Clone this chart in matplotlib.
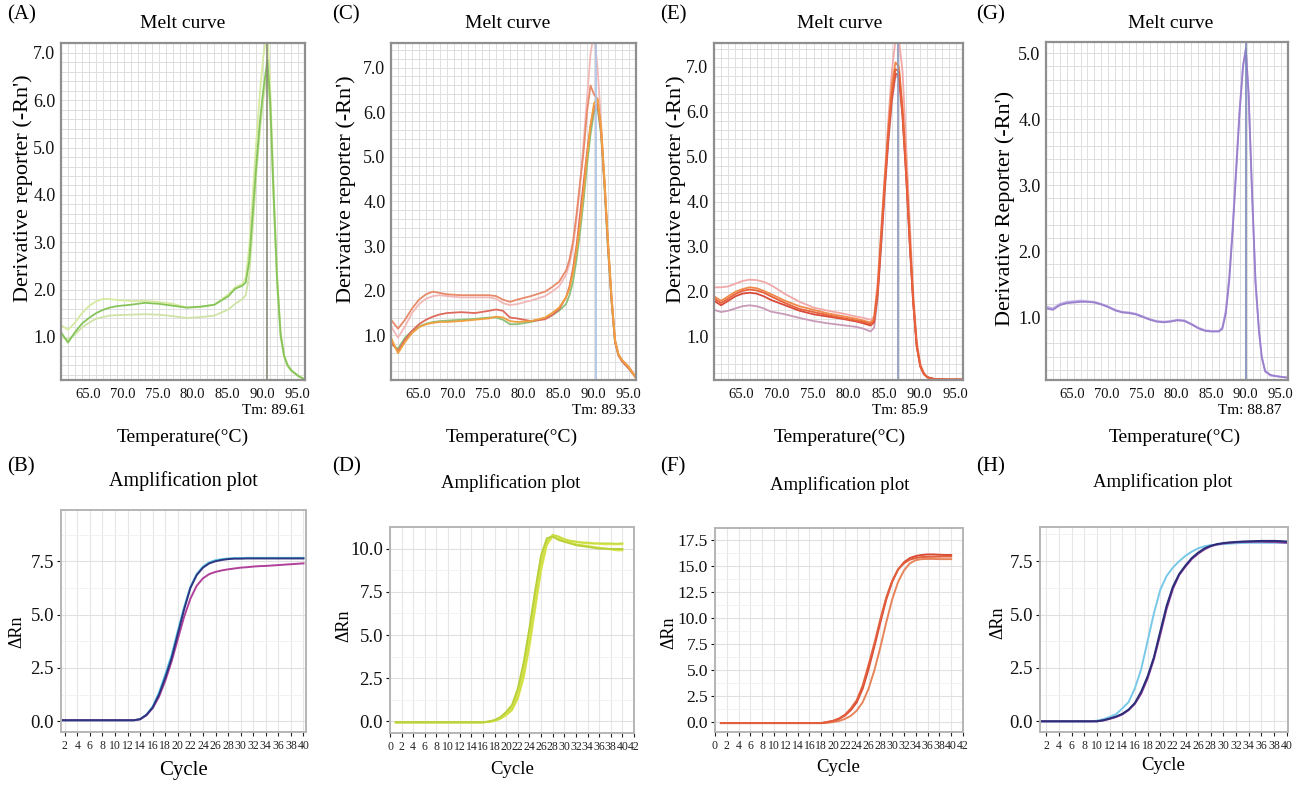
import matplotlib.pyplot as plt
from matplotlib.ticker import MultipleLocator
from matplotlib.transforms import ScaledTranslation

plt.rcParams['font.family'] = ['Liberation Serif', 'DejaVu Serif']

W, H = 1316, 787

# ---------------- melt curve data ----------------
a_temp = [60, 61, 62, 63, 64, 65, 66, 67, 68, 70, 72, 74, 76, 78, 80, 82, 84, 85, 86, 86.5,
          87, 87.5, 88, 88.5, 89, 89.6, 90, 90.5, 91, 91.5, 92, 92.5, 93, 94, 95]
a_dark = [1.10, 0.88, 1.10, 1.28, 1.40, 1.50, 1.57, 1.62, 1.65, 1.68, 1.72, 1.70, 1.66, 1.62, 1.64, 1.68, 1.86, 2.02, 2.08, 2.15,
          2.60, 3.60, 4.60, 5.50, 6.20, 6.85, 6.00, 4.00, 2.20, 1.05, 0.60, 0.40, 0.30, 0.18, 0.10]
a_upper = [1.25, 1.15, 1.30, 1.50, 1.65, 1.75, 1.80, 1.80, 1.78, 1.76, 1.76, 1.74, 1.70, 1.62, 1.63, 1.68, 1.90, 2.05, 2.12, 2.25,
           2.90, 4.00, 5.10, 6.10, 6.90, 7.50, 6.30, 4.20, 2.30, 1.10, 0.62, 0.42, 0.30, 0.18, 0.10]
a_lower = [1.00, 0.95, 1.05, 1.20, 1.30, 1.38, 1.42, 1.45, 1.46, 1.47, 1.48, 1.47, 1.44, 1.40, 1.42, 1.45, 1.58, 1.70, 1.80, 1.88,
           2.30, 3.30, 4.40, 5.30, 6.00, 6.60, 5.80, 3.90, 2.10, 1.00, 0.58, 0.38, 0.28, 0.17, 0.10]

c_temp = [60, 61, 62, 63, 64, 65, 66, 67, 68, 70, 72, 74, 75, 76, 77, 78, 80, 82, 83, 84,
          85, 85.5, 86, 86.5, 87, 87.5, 88, 88.5, 89, 89.5, 90, 90.5, 91, 91.5, 92, 92.5, 93, 94, 95]
c_salmon = [1.35, 1.15, 1.35, 1.60, 1.80, 1.92, 1.98, 1.95, 1.92, 1.90, 1.90, 1.90, 1.88, 1.80, 1.75, 1.80, 1.88, 1.98, 2.08, 2.20,
            2.45, 2.70, 3.10, 3.70, 4.40, 5.10, 6.00, 6.60, 6.40, 6.30, 5.60, 4.40, 3.10, 1.90, 0.90, 0.55, 0.45, 0.28, 0.05]
c_pink = [1.20, 0.95, 1.20, 1.50, 1.70, 1.82, 1.88, 1.90, 1.88, 1.85, 1.85, 1.85, 1.82, 1.72, 1.68, 1.70, 1.78, 1.88, 1.98, 2.10,
          2.35, 2.60, 3.00, 3.60, 4.40, 5.30, 6.30, 7.30, 7.80, 7.00, 5.80, 4.40, 3.00, 1.80, 0.90, 0.55, 0.45, 0.30, 0.06]
c_red = [0.85, 0.65, 0.90, 1.10, 1.25, 1.35, 1.42, 1.47, 1.50, 1.52, 1.50, 1.55, 1.58, 1.55, 1.40, 1.38, 1.32, 1.36, 1.45, 1.58,
         1.85, 2.10, 2.50, 3.00, 3.70, 4.40, 5.10, 5.70, 6.10, 6.20, 5.60, 4.40, 3.00, 1.80, 0.85, 0.55, 0.42, 0.25, 0.05]
c_green = [0.80, 0.70, 0.95, 1.10, 1.20, 1.26, 1.30, 1.32, 1.33, 1.35, 1.37, 1.40, 1.40, 1.35, 1.25, 1.25, 1.30, 1.38, 1.45, 1.55,
           1.70, 1.90, 2.20, 2.70, 3.30, 4.00, 4.80, 5.50, 6.00, 6.10, 5.50, 4.30, 2.90, 1.75, 0.85, 0.55, 0.42, 0.25, 0.05]
c_orange = [0.95, 0.60, 0.85, 1.05, 1.18, 1.25, 1.28, 1.30, 1.30, 1.32, 1.35, 1.38, 1.42, 1.40, 1.32, 1.30, 1.32, 1.40, 1.50, 1.62,
            1.85, 2.05, 2.40, 2.90, 3.50, 4.20, 5.00, 5.70, 6.20, 6.30, 5.70, 4.50, 3.10, 1.85, 0.90, 0.58, 0.45, 0.28, 0.04]

e_temp = [60, 61, 62, 63, 64, 65, 66, 67, 68, 70, 72, 74, 76, 78, 80, 81, 82, 82.5,
          83, 83.5, 84, 84.5, 85, 85.5, 86, 86.5, 87, 87.5, 88, 88.5, 89, 89.5, 90, 91, 93, 95]
e_pink = [2.10, 2.10, 2.12, 2.18, 2.24, 2.27, 2.26, 2.22, 2.15, 1.95, 1.78, 1.65, 1.58, 1.52, 1.45, 1.42, 1.38, 1.45,
          2.20, 3.40, 4.60, 5.80, 6.90, 7.60, 7.60, 6.90, 5.30, 3.60, 2.00, 0.90, 0.40, 0.20, 0.10, 0.06, 0.05, 0.05]
e_main = [1.85, 1.75, 1.85, 1.95, 2.02, 2.05, 2.03, 1.98, 1.90, 1.75, 1.62, 1.55, 1.48, 1.42, 1.36, 1.33, 1.28, 1.35,
          2.00, 3.20, 4.40, 5.50, 6.40, 6.95, 6.90, 6.00, 4.70, 3.20, 1.80, 0.80, 0.35, 0.18, 0.10, 0.06, 0.05, 0.05]
e_red = [1.80, 1.70, 1.80, 1.90, 1.96, 1.98, 1.96, 1.90, 1.82, 1.70, 1.58, 1.50, 1.45, 1.40, 1.34, 1.30, 1.25, 1.32,
         1.95, 3.10, 4.30, 5.40, 6.30, 6.85, 6.80, 5.90, 4.60, 3.10, 1.75, 0.78, 0.34, 0.17, 0.10, 0.06, 0.05, 0.05]
e_orange = [1.90, 1.80, 1.90, 2.00, 2.06, 2.10, 2.08, 2.02, 1.95, 1.80, 1.68, 1.60, 1.52, 1.46, 1.40, 1.36, 1.32, 1.40,
            2.10, 3.30, 4.50, 5.60, 6.60, 7.10, 7.00, 6.10, 4.80, 3.30, 1.85, 0.82, 0.36, 0.18, 0.10, 0.06, 0.05, 0.05]
e_low = [1.60, 1.55, 1.58, 1.63, 1.68, 1.70, 1.68, 1.63, 1.56, 1.50, 1.42, 1.35, 1.30, 1.26, 1.22, 1.18, 1.12, 1.20,
         1.85, 3.00, 4.20, 5.30, 6.20, 6.80, 6.75, 5.90, 4.60, 3.10, 1.75, 0.78, 0.34, 0.17, 0.10, 0.06, 0.05, 0.05]

g_temp = [60, 61, 62, 63, 64, 65, 66, 67, 68, 69, 70, 71, 72, 73, 74, 75, 76, 77, 78, 79, 80, 81, 82, 83, 84, 85,
          85.5, 86, 86.5, 87, 87.5, 88, 88.5, 88.9, 89.3, 89.8, 90.3, 90.8, 91.2, 91.7, 92.5, 93.5, 95]
g_one = [1.13, 1.11, 1.18, 1.21, 1.22, 1.23, 1.23, 1.22, 1.19, 1.15, 1.10, 1.07, 1.06, 1.04, 1.00, 0.96, 0.93, 0.92, 0.93, 0.95, 0.94, 0.89, 0.83, 0.79, 0.78, 0.78,
         0.82, 1.05, 1.55, 2.30, 3.20, 4.10, 4.80, 5.07, 4.40, 2.90, 1.55, 0.80, 0.40, 0.18, 0.12, 0.10, 0.08]
g_two = [1.16, 1.13, 1.20, 1.23, 1.24, 1.25, 1.24, 1.23, 1.20, 1.16, 1.11, 1.08, 1.07, 1.05, 1.01, 0.97, 0.94, 0.93, 0.94, 0.96, 0.95, 0.90, 0.84, 0.80, 0.79, 0.79,
         0.84, 1.10, 1.62, 2.38, 3.28, 4.15, 4.82, 5.05, 4.35, 2.85, 1.50, 0.78, 0.38, 0.17, 0.11, 0.10, 0.08]

# ---------------- amplification data ----------------
cycles = list(range(1, 41))
b_cyan = [0.05] * 13 + [0.10, 0.32, 0.70, 1.35, 2.20, 3.10, 4.25, 5.35, 6.30, 6.90, 7.25, 7.45, 7.55, 7.60, 7.63,
                        7.65, 7.65, 7.66, 7.66, 7.66, 7.66, 7.66, 7.66, 7.66, 7.66, 7.66, 7.66]
b_navy = [0.05] * 13 + [0.10, 0.30, 0.65, 1.25, 2.05, 2.95, 4.10, 5.25, 6.25, 6.85, 7.20, 7.40, 7.50, 7.56, 7.60,
                        7.62, 7.62, 7.63, 7.63, 7.63, 7.63, 7.63, 7.63, 7.63, 7.63, 7.63, 7.63]
b_purple = [0.05] * 13 + [0.10, 0.28, 0.62, 1.15, 1.90, 2.80, 3.85, 4.90, 5.75, 6.35, 6.70, 6.90, 7.00, 7.07, 7.12,
                          7.16, 7.20, 7.22, 7.25, 7.27, 7.28, 7.30, 7.32, 7.34, 7.36, 7.38, 7.40]

d_one = [-0.05] * 16 + [-0.02, 0.05, 0.20, 0.45, 0.80, 1.60, 3.00, 4.90, 7.10, 9.20, 10.50, 10.75, 10.55, 10.45,
                        10.35, 10.25, 10.20, 10.15, 10.10, 10.05, 10.00, 9.95, 9.90, 9.90]
d_two = [-0.05] * 16 + [-0.03, 0.02, 0.15, 0.35, 0.65, 1.30, 2.50, 4.30, 6.50, 8.70, 10.20, 10.70, 10.60, 10.50,
                        10.45, 10.40, 10.35, 10.30, 10.30, 10.28, 10.25, 10.25, 10.25, 10.25]
d_three = [-0.05] * 16 + [0.00, 0.08, 0.25, 0.55, 0.95, 1.90, 3.40, 5.40, 7.60, 9.60, 10.60, 10.70, 10.50, 10.40,
                          10.30, 10.20, 10.15, 10.10, 10.05, 10.00, 10.00, 9.98, 9.98, 9.98]
d_four = [-0.05] * 16 + [-0.02, 0.04, 0.17, 0.40, 0.70, 1.40, 2.70, 4.60, 6.80, 9.00, 10.30, 10.80, 10.70, 10.55,
                         10.45, 10.40, 10.35, 10.35, 10.30, 10.30, 10.30, 10.30, 10.28, 10.30]

f_one = [-0.10] * 18 + [0.00, 0.12, 0.35, 0.70, 1.30, 2.10, 3.50, 5.50, 7.60, 9.90, 12.00, 13.60, 14.70, 15.30,
                        15.65, 15.80, 15.90, 15.92, 15.93, 15.94, 15.95, 15.95]
f_two = [-0.10] * 18 + [-0.08, 0.00, 0.10, 0.30, 0.60, 1.10, 1.90, 3.20, 5.00, 7.20, 9.60, 11.80, 13.50, 14.60,
                        15.30, 15.60, 15.70, 15.72, 15.72, 15.70, 15.70, 15.70]
f_three = [-0.10] * 18 + [0.00, 0.10, 0.30, 0.62, 1.15, 1.90, 3.20, 5.10, 7.30, 9.60, 11.80, 13.50, 14.70, 15.40,
                          15.80, 16.00, 16.10, 16.15, 16.15, 16.12, 16.10, 16.10]

h_cyan = [0.0] * 9 + [0.03, 0.10, 0.20, 0.33, 0.60, 0.90, 1.55, 2.45, 3.75, 5.05, 6.15, 6.80, 7.20, 7.50, 7.75, 7.95,
                      8.10, 8.20, 8.25, 8.28, 8.30, 8.32, 8.34, 8.35, 8.36, 8.36, 8.36, 8.36, 8.36, 8.36, 8.36]
h_navy = [0.0] * 10 + [0.05, 0.13, 0.22, 0.35, 0.55, 0.86, 1.40, 2.10, 3.00, 4.20, 5.40, 6.30, 6.90, 7.30, 7.65,
                       7.90, 8.10, 8.22, 8.30, 8.35, 8.38, 8.40, 8.42, 8.43, 8.44, 8.45, 8.45, 8.45, 8.44, 8.42]
h_purple = [0.0] * 10 + [0.04, 0.11, 0.20, 0.32, 0.52, 0.82, 1.30, 2.00, 2.90, 4.05, 5.25, 6.20, 6.85, 7.25, 7.60,
                         7.85, 8.05, 8.20, 8.28, 8.33, 8.36, 8.38, 8.40, 8.40, 8.41, 8.41, 8.40, 8.40, 8.38, 8.36]


fig = plt.figure(figsize=(W / 100, H / 100), dpi=100)
fig.patch.set_facecolor('white')


def rect(l, r, t, b):
    return [l / W, 1 - b / H, (r - l) / W, (b - t) / H]


def ftext(x, y, s, **kw):
    fig.text(x / W, 1 - y / H, s, **kw)


def melt_panel(box, temps, curves, colors, ylim, ytop, tm, tm_color, tag, tag_x,
               title_x, ylab, ylab_xy, tm_right, xlab_x):
    ax = fig.add_axes(rect(*box))
    ax.set_xlim(60, 95)
    ax.set_ylim(*ylim)
    ax.xaxis.set_minor_locator(MultipleLocator(1))
    ax.yaxis.set_minor_locator(MultipleLocator(0.2))
    ax.grid(which='both', color='#dedede', lw=0.7)
    ax.set_axisbelow(True)
    for c, col in zip(curves, colors):
        ax.plot(temps, c, color=col, lw=1.3)
    ax.axvline(tm, color=tm_color, lw=1.2)
    ax.set_xticks([65, 70, 75, 80, 85, 90, 95])
    ax.set_xticklabels(['65.0', '70.0', '75.0', '80.0', '85.0', '90.0', '95.0'])
    ax.set_yticks([v for v in range(1, ytop + 1)])
    ax.set_yticklabels([f'{v:.1f}' for v in range(1, ytop + 1)])
    ax.tick_params(axis='x', which='both', length=0, labelsize=10.5, pad=6, colors='#111111')
    ax.tick_params(axis='y', which='both', length=0, labelsize=13, pad=4, colors='#111111')
    shift = ScaledTranslation(-0.08, 0, fig.dpi_scale_trans)
    for lbl in ax.get_xticklabels():
        lbl.set_transform(lbl.get_transform() + shift)
    for s in ax.spines.values():
        s.set_color('#8f8f8f')
        s.set_linewidth(1.6)
    ftext(tag_x, 15, tag, fontsize=15, ha='left', va='center')
    ftext(title_x, 24, 'Melt curve', fontsize=14, ha='center', va='center')
    ftext(ylab_xy[0], ylab_xy[1], ylab, fontsize=16, rotation=90, ha='center', va='center')
    ftext(tm_right, 411, f'Tm: {tm}', fontsize=11, ha='right', va='center')
    ftext(xlab_x, 437, 'Temperature(°C)', fontsize=14, ha='center', va='center')
    return ax


def amp_panel(box, curves, colors, xlim, xticks, ylim, yticks, ytick_fs, tag, tag_x, title_x, title_y,
              title_fs, ylab_xy, cyc_xy, cyc_fs):
    ax = fig.add_axes(rect(*box))
    ax.set_xlim(*xlim)
    ax.set_ylim(*ylim)
    ax.yaxis.set_minor_locator(MultipleLocator(1.25))
    ax.grid(which='major', axis='x', color='#e6e6e6', lw=0.8)
    ax.grid(which='major', axis='y', color='#e0e0e0', lw=0.8)
    ax.grid(which='minor', axis='y', color='#f0f0f0', lw=0.6)
    ax.set_axisbelow(True)
    for c, col in zip(curves, colors):
        ax.plot(cycles, c, color=col, lw=1.4)
    ax.set_xticks(xticks)
    ax.set_xticklabels([str(v) for v in xticks])
    ax.set_yticks(yticks)
    ax.set_yticklabels([f'{v:.1f}' for v in yticks])
    ax.tick_params(axis='x', which='major', length=3, labelsize=8.5, pad=3, colors='#222222')
    ax.tick_params(axis='y', which='minor', length=0)
    ax.tick_params(axis='y', which='major', length=3, labelsize=ytick_fs, pad=2, colors='#111111')
    for s in ax.spines.values():
        s.set_color('#b5b5b5')
        s.set_linewidth(1.4)
    ftext(tag_x, 467, tag, fontsize=15, ha='left', va='center')
    ftext(title_x, title_y, 'Amplification plot', fontsize=title_fs, ha='center', va='center')
    ftext(ylab_xy[0], ylab_xy[1], 'ΔRn', fontsize=13, rotation=90, ha='center', va='center')
    ftext(cyc_xy[0], cyc_xy[1], 'Cycle', fontsize=cyc_fs, ha='center', va='center')
    return ax


# top row: melt curves
melt_panel((61, 305, 43, 380), a_temp, [a_upper, a_lower, a_dark],
           ['#d6eaa0', '#cfe3a6', '#86c45a'], (0.09, 7.21), 7, 89.61, '#8a8a78',
           '(A)', 7, 183, "Derivative reporter (-Rn')", (23, 188), 305, 183)
melt_panel((391, 636, 43, 380), c_temp, [c_pink, c_green, c_red, c_salmon, c_orange],
           ['#f2b8b8', '#8cc07a', '#de6a5e', '#e88a6a', '#f0a040'], (0.0, 7.55), 7, 89.33, '#a9c2e6',
           '(C)', 332, 508, "Derivative reporter (-Rn')", (346, 189), 635, 512)
melt_panel((714, 963, 43, 380), e_temp, [e_pink, e_low, e_orange, e_red, e_main],
           ['#f2a8a8', '#c89ab8', '#f0884a', '#d84a3a', '#e8623a'], (0.04, 7.53), 7, 85.9, '#8a96b8',
           '(E)', 660, 840, "Derivative reporter (-Rn')", (676, 189), 928, 840)
melt_panel((1046, 1288, 42, 380), g_temp, [g_two, g_one],
           ['#c0b0e6', '#9a80cc'], (0.045, 5.17), 5, 88.87, '#7a88b8',
           '(G)', 976, 1171, "Derivative Reporter (-Rn')", (1005, 208), 1282, 1175)

# bottom row: amplification plots
amp_panel((61, 306, 510, 732), [b_cyan, b_purple, b_navy], ['#5cc6e6', '#b0409a', '#2c3580'],
          (1.4, 40.4), list(range(2, 41, 2)), (-0.5, 9.9), [0.0, 2.5, 5.0, 7.5], 13.5,
          '(B)', 7, 183, 481, 14.5, (17, 632), (183, 771), 15)
amp_panel((390, 634, 527, 733), [d_two, d_four, d_one, d_three], ['#e4e858', '#c8dc44', '#d6e24c', '#b8d03a'],
          (0, 42), list(range(0, 43, 2)), (-0.67, 11.25), [0.0, 2.5, 5.0, 7.5, 10.0], 13.5,
          '(D)', 332, 511, 483, 13.5, (344, 626), (512, 770), 13.5)
amp_panel((715, 963, 528, 732), [f_two, f_three, f_one], ['#e8845a', '#d84a32', '#e2603e'],
          (0, 42), list(range(0, 43, 2)), (-0.96, 18.7), [0.0, 2.5, 5.0, 7.5, 10.0, 12.5, 15.0, 17.5], 12.5,
          '(F)', 660, 840, 485, 13.5, (669, 633), (838, 768), 13.5)
amp_panel((1040, 1288, 527, 732), [h_cyan, h_purple, h_navy], ['#78c8e8', '#8a3a96', '#2a2e78'],
          (1, 40.2), list(range(2, 41, 2)), (-0.5, 9.1), [0.0, 2.5, 5.0, 7.5], 13.5,
          '(H)', 976, 1163, 482, 13.5, (998, 623), (1163, 765), 13.5)

fig.savefig('out.png', dpi=100, facecolor='white')
